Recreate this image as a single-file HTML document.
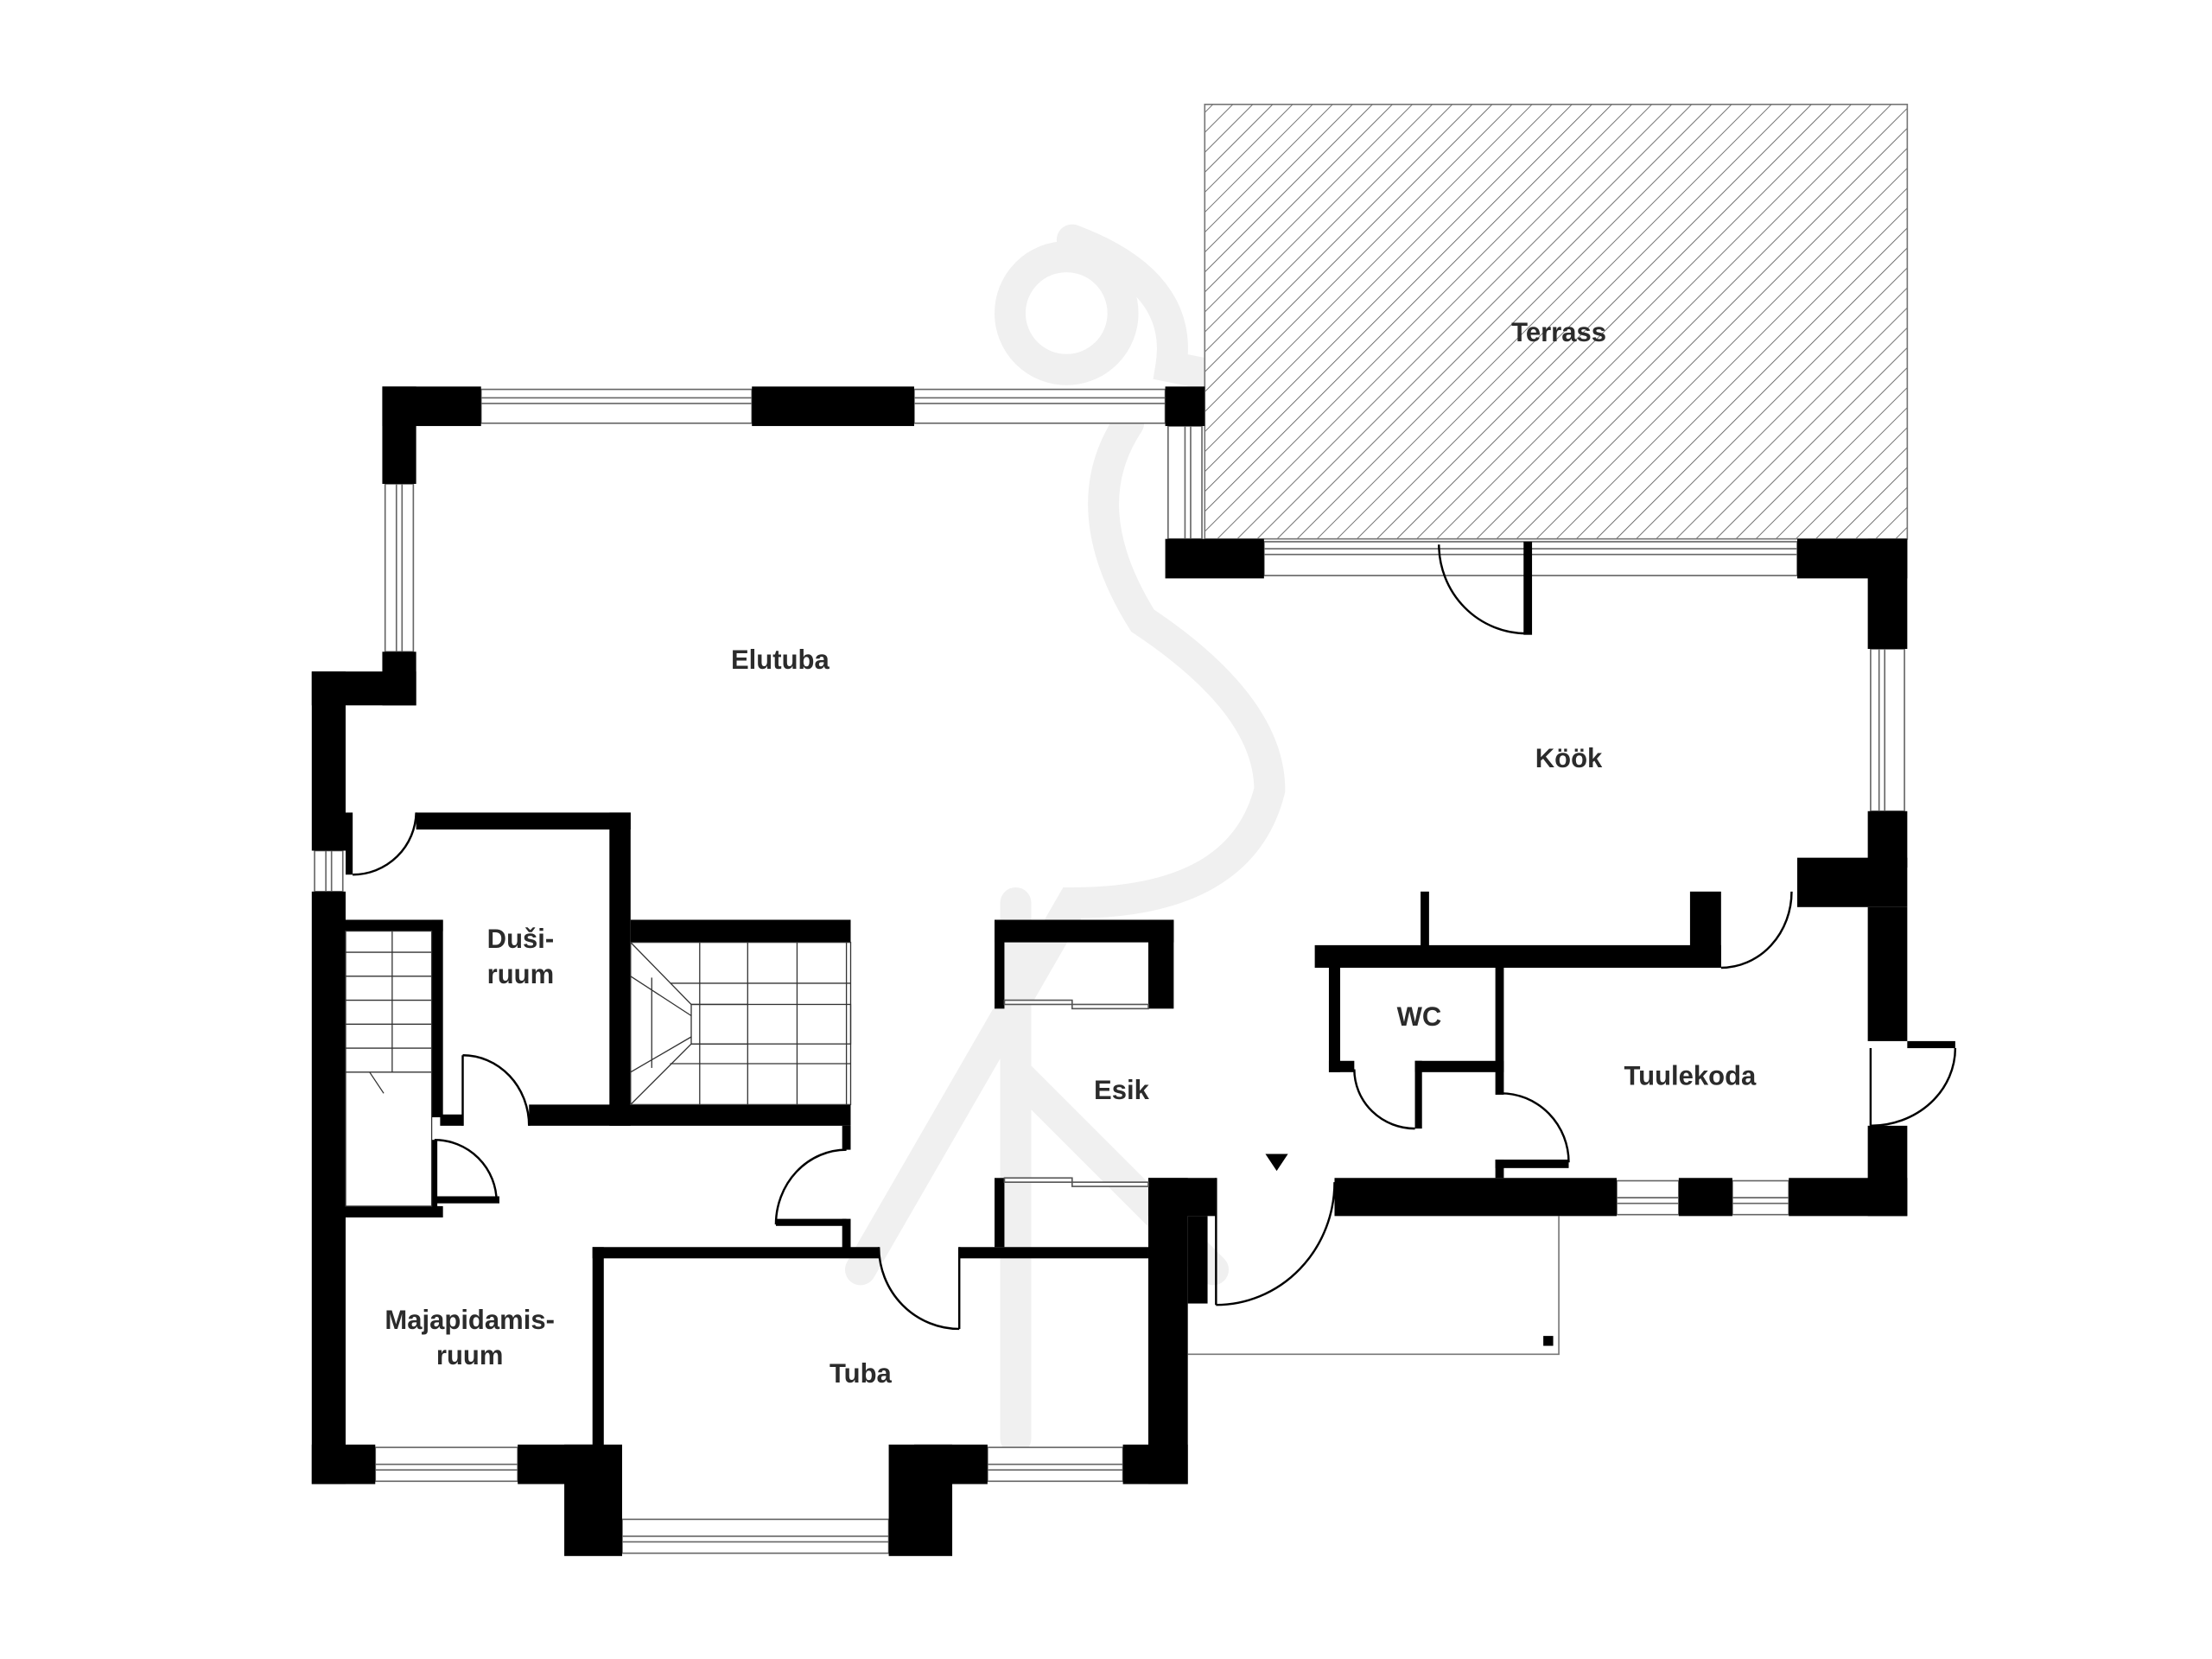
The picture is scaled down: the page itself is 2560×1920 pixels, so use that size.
<!DOCTYPE html>
<html><head><meta charset="utf-8"><style>
html,body{margin:0;padding:0;background:#fff}
svg{display:block}
text{font-family:"Liberation Sans",sans-serif;font-weight:bold;font-size:19px;fill:#2b2b2b;text-anchor:middle}
</style></head><body>
<svg width="2560" height="1920" viewBox="0 0 1568 1176" preserveAspectRatio="none" xmlns="http://www.w3.org/2000/svg">
<defs>
<pattern id="h" patternUnits="userSpaceOnUse" width="10" height="10" patternTransform="rotate(45)">
<rect width="10" height="10" fill="#fff"/><line x1="0" y1="0" x2="0" y2="10" stroke="#555" stroke-width="1"/>
</pattern>
</defs>
<rect width="1568" height="1176" fill="#fff"/>
<!-- watermark -->
<g fill="none" stroke="#f0f0f0" stroke-width="22" stroke-linecap="round">
<circle cx="756" cy="222" r="40"/>
<path d="M760 170 Q840 200 830 260 L980 290"/>
<path d="M800 300 Q760 360 810 440 Q900 500 900 560 Q880 640 760 640 L610 900"/>
<path d="M720 760 L860 900"/>
<path d="M720 640 L720 1020"/>
</g>
<!-- terrace -->
<rect x="854" y="74" width="498" height="308" fill="url(#h)" stroke="#777" stroke-width="1"/>
<!-- windows -->
<g fill="#fff" stroke="#666" stroke-width="1">
<rect x="341" y="276" width="192" height="24"/><line x1="341" y1="282" x2="533" y2="282"/><line x1="341" y1="286" x2="533" y2="286"/>
<rect x="648" y="276" width="178" height="24"/><line x1="648" y1="282" x2="826" y2="282"/><line x1="648" y1="286" x2="826" y2="286"/>
<rect x="828" y="302" width="24" height="80"/><line x1="840" y1="302" x2="840" y2="382"/><line x1="844" y1="302" x2="844" y2="382"/>
<rect x="273" y="343" width="20" height="119"/><line x1="281" y1="343" x2="281" y2="462"/><line x1="285" y1="343" x2="285" y2="462"/>
<rect x="223" y="603" width="20" height="29"/><line x1="231" y1="603" x2="231" y2="632"/><line x1="235" y1="603" x2="235" y2="632"/>
<rect x="266" y="1026" width="101" height="24"/><line x1="266" y1="1038" x2="367" y2="1038"/><line x1="266" y1="1042" x2="367" y2="1042"/>
<rect x="441" y="1077" width="189" height="24"/><line x1="441" y1="1089" x2="630" y2="1089"/><line x1="441" y1="1093" x2="630" y2="1093"/>
<rect x="700" y="1026" width="96" height="24"/><line x1="700" y1="1038" x2="796" y2="1038"/><line x1="700" y1="1042" x2="796" y2="1042"/>
<rect x="896" y="384" width="378" height="24"/><line x1="896" y1="389" x2="1274" y2="389"/><line x1="896" y1="393" x2="1274" y2="393"/>
<rect x="1326" y="460" width="24" height="115"/><line x1="1332" y1="460" x2="1332" y2="575"/><line x1="1336" y1="460" x2="1336" y2="575"/>
<rect x="1146" y="837" width="44" height="24"/><line x1="1146" y1="849" x2="1190" y2="849"/><line x1="1146" y1="853" x2="1190" y2="853"/>
<rect x="1228" y="837" width="40" height="24"/><line x1="1228" y1="849" x2="1268" y2="849"/><line x1="1228" y1="853" x2="1268" y2="853"/>
</g>
<!-- walls -->
<g fill="#000">
<rect x="271" y="274" width="70" height="28"/><rect x="271" y="274" width="24" height="69"/>
<rect x="533" y="274" width="115" height="28"/><rect x="826" y="274" width="28" height="28"/>
<rect x="271" y="462" width="24" height="38"/><rect x="221" y="476" width="74" height="24"/>
<rect x="221" y="476" width="24" height="127"/><rect x="221" y="632" width="24" height="420"/>
<rect x="221" y="1024" width="45" height="28"/><rect x="367" y="1024" width="53" height="28"/>
<rect x="400" y="1024" width="41" height="79"/><rect x="630" y="1024" width="45" height="79"/>
<rect x="648" y="1024" width="52" height="28"/><rect x="796" y="1024" width="46" height="28"/>
<rect x="814" y="835" width="28" height="217"/><rect x="814" y="835" width="48" height="27"/>
<rect x="842" y="862" width="14" height="62"/>
<rect x="946" y="835" width="200" height="27"/><rect x="1190" y="835" width="38" height="27"/>
<rect x="1268" y="835" width="84" height="27"/><rect x="1324" y="798" width="28" height="64"/>
<rect x="1324" y="643" width="28" height="95"/><rect x="1274" y="608" width="78" height="35"/>
<rect x="1324" y="575" width="28" height="40"/>
<rect x="1274" y="382" width="78" height="28"/><rect x="1324" y="382" width="28" height="78"/>
<rect x="826" y="382" width="70" height="28"/>
<rect x="1352" y="738" width="34" height="5"/>
<!-- interior -->
<rect x="295" y="576" width="152" height="12"/><rect x="245" y="576" width="5" height="44"/>
<rect x="432" y="576" width="15" height="222"/>
<rect x="447" y="652" width="156" height="16"/>
<rect x="375" y="783" width="228" height="15"/><rect x="312" y="790" width="16" height="8"/>
<rect x="245" y="652" width="69" height="8"/><rect x="306" y="652" width="8" height="140"/>
<rect x="245" y="855" width="69" height="8"/><rect x="306" y="808" width="4" height="50"/>
<rect x="306" y="848" width="48" height="5"/>
<rect x="597" y="798" width="6" height="17"/><rect x="597" y="864" width="6" height="24"/>
<rect x="550" y="864" width="50" height="5"/>
<rect x="420" y="884" width="203" height="8"/><rect x="680" y="884" width="134" height="8"/>
<rect x="420" y="884" width="8" height="191"/>
<rect x="705" y="652" width="127" height="16"/><rect x="705" y="652" width="7" height="63"/><rect x="814" y="652" width="18" height="63"/>
<rect x="705" y="835" width="7" height="49"/>
<rect x="932" y="670" width="288" height="16"/><rect x="1007" y="632" width="6" height="40"/>
<rect x="1198" y="632" width="22" height="54"/>
<rect x="942" y="686" width="8" height="74"/><rect x="942" y="752" width="18" height="8"/>
<rect x="1003" y="752" width="63" height="8"/><rect x="1003" y="752" width="5" height="48"/>
<rect x="1060" y="686" width="6" height="90"/><rect x="1060" y="822" width="52" height="6"/><rect x="1060" y="822" width="6" height="13"/>
<rect x="1080" y="384" width="6" height="66"/>
</g>
<!-- sliding doors -->
<g fill="#fff" stroke="#555" stroke-width="1">
<rect x="712" y="709" width="48" height="3"/><rect x="760" y="712" width="54" height="3"/>
<rect x="712" y="835" width="48" height="3"/><rect x="760" y="838" width="54" height="3"/>
</g>
<!-- stairs -->
<g stroke="#333" stroke-width="0.8" fill="none">
<rect x="245" y="660" width="61" height="195"/>
<line x1="278" y1="660" x2="278" y2="760"/>
<line x1="245" y1="675" x2="306" y2="675"/><line x1="245" y1="692" x2="306" y2="692"/><line x1="245" y1="709" x2="306" y2="709"/>
<line x1="245" y1="726" x2="306" y2="726"/><line x1="245" y1="743" x2="306" y2="743"/><line x1="245" y1="760" x2="306" y2="760"/>
<line x1="262" y1="760" x2="272" y2="775"/>
<rect x="447" y="668" width="156" height="115"/>
<polyline points="447,668 490,712 530,712"/><polyline points="447,783 490,740 530,740"/>
<line x1="447" y1="692" x2="490" y2="720"/><line x1="447" y1="760" x2="490" y2="735"/>
<rect x="490" y="712" width="113" height="28"/>
<line x1="475" y1="697" x2="603" y2="697"/><line x1="475" y1="754" x2="603" y2="754"/>
<line x1="496" y1="668" x2="496" y2="783"/><line x1="530" y1="668" x2="530" y2="783"/>
<line x1="565" y1="668" x2="565" y2="783"/><line x1="600" y1="668" x2="600" y2="783"/>
<line x1="462" y1="693" x2="462" y2="757"/>
</g>
<!-- door arcs -->
<g fill="none" stroke="#000" stroke-width="1.5">
<path d="M250 620 A45 45 0 0 0 295 576"/>
<path d="M328 748 A47 50 0 0 1 375 798"/><line x1="328" y1="748" x2="328" y2="798"/>
<path d="M308 808 A44 44 0 0 1 352 852"/>
<path d="M600 815 A50 53 0 0 0 550 868"/>
<path d="M623 884 A57 58 0 0 0 680 942"/><line x1="680" y1="884" x2="680" y2="942"/>
<path d="M1020 386 A62 63 0 0 0 1082 449"/>
<path d="M1270 632 A50 54 0 0 1 1220 686"/>
<path d="M960 758 A43 42 0 0 0 1003 800"/>
<path d="M1064 775 A48 49 0 0 1 1112 824"/>
<path d="M1386 743 A60 55 0 0 1 1326 798"/><line x1="1326" y1="743" x2="1326" y2="798"/>
<path d="M946 838 A84 87 0 0 1 862 925"/>
<line x1="862" y1="835" x2="862" y2="925"/>
</g>
<!-- outside steps -->
<polyline points="842,960 1105,960 1105,862" fill="none" stroke="#777" stroke-width="1"/>
<rect x="1094" y="947" width="7" height="7" fill="#000"/>
<polygon points="897,818 913,818 905,830" fill="#000"/>
<!-- labels -->
<text x="1105" y="242">Terrass</text>
<text x="553" y="474">Elutuba</text>
<text x="1112" y="544">Köök</text>
<text x="369" y="672">Duši-</text><text x="369" y="697">ruum</text>
<text x="795" y="779">Esik</text>
<text x="1006" y="727">WC</text>
<text x="1198" y="769">Tuulekoda</text>
<text x="333" y="942">Majapidamis-</text><text x="333" y="967">ruum</text>
<text x="610" y="980">Tuba</text>
</svg>
</body></html>
